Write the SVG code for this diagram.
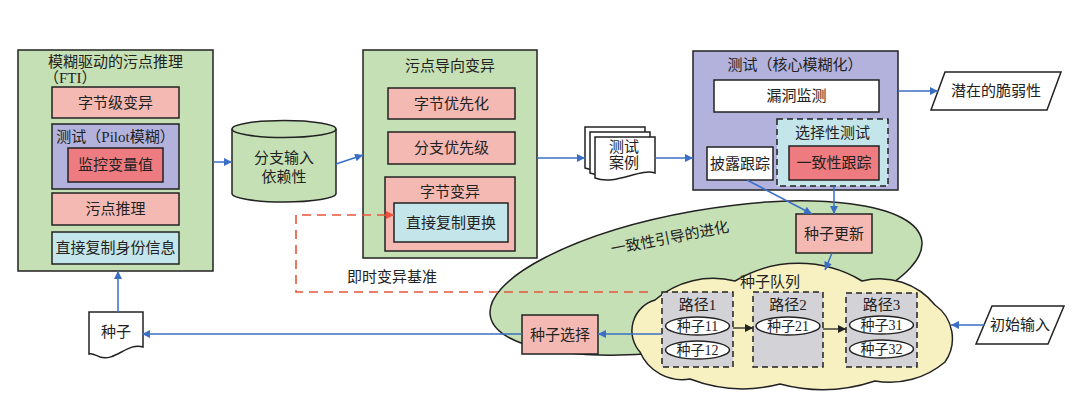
<svg xmlns="http://www.w3.org/2000/svg" width="1080" height="401" viewBox="0 0 1080 401">
<style>
text{font-family:"Liberation Serif","Noto Sans CJK SC",serif;font-size:15px;fill:#222;text-anchor:middle;dominant-baseline:central}
text.s{font-size:14px}
.b{stroke:#222;stroke-width:1.5}
.g{fill:#c5e0b4}.p{fill:#f5b9b3}.r{fill:#ee7b80}.v{fill:#b2b2dc}.c{fill:#c4e5ea}.w{fill:#fff}.q{fill:#d3d3d7}
.d{stroke-dasharray:6 4}
.ab{stroke:#3a6fc4;stroke-width:1.5;fill:none;marker-end:url(#mb)}
.ak{stroke:#222;stroke-width:1.3;fill:none;marker-end:url(#mk)}
</style>
<defs>
<marker id="mb" viewBox="0 0 10 10" refX="10" refY="5" markerWidth="12" markerHeight="8" markerUnits="userSpaceOnUse" orient="auto"><path d="M0,0 L10,5 L0,10 Z" fill="#3a6fc4"/></marker>
<marker id="mk" viewBox="0 0 10 10" refX="10" refY="5" markerWidth="12" markerHeight="8" markerUnits="userSpaceOnUse" orient="auto"><path d="M0,0 L10,5 L0,10 Z" fill="#222"/></marker>
<marker id="mr" viewBox="0 0 10 10" refX="10" refY="5" markerWidth="12" markerHeight="8" markerUnits="userSpaceOnUse" orient="auto"><path d="M0,0 L10,5 L0,10 Z" fill="#e8553a"/></marker>
</defs>
<rect width="1080" height="401" fill="#fff"/>

<g id="evolution">
<ellipse cx="706" cy="278" rx="219" ry="68" transform="rotate(-10 706 278)" class="g b"/>
<text x="670" y="238" transform="rotate(-11 670 238)">一致性引导的进化</text>
</g>

<g id="fti">
<rect x="18" y="50" width="195" height="221" class="g b"/>
<text x="48" y="62" style="text-anchor:start">模糊驱动的污点推理</text>
<text x="44" y="78" style="text-anchor:start">（FTI）</text>
<rect x="52" y="87" width="127" height="31" class="p b"/>
<text x="115.5" y="102.5">字节级变异</text>
<rect x="52" y="124" width="127" height="65" class="v b"/>
<text x="115.5" y="137">测试（Pilot模糊）</text>
<rect x="68" y="148" width="95" height="34" class="r b"/>
<text x="115.5" y="165">监控变量值</text>
<rect x="52" y="193" width="127" height="32" class="p b"/>
<text x="115.5" y="209">污点推理</text>
<rect x="52" y="232" width="127" height="32" class="c b"/>
<text x="115.5" y="248">直接复制身份信息</text>
</g>

<g id="branch-dep">
<path d="M232,129 V193.5 A52,8.5 0 0 0 336,193.5 V129" class="g b"/>
<ellipse cx="284" cy="129" rx="52" ry="8.5" class="g b"/>
<text x="284" y="158">分支输入</text>
<text x="284" y="177">依赖性</text>
</g>

<g id="tdm">
<rect x="363" y="50" width="174" height="208" class="g b"/>
<text x="450" y="66">污点导向变异</text>
<rect x="388" y="88" width="127" height="31" class="p b"/>
<text x="451.5" y="103.5">字节优先化</text>
<rect x="388" y="132" width="127" height="32" class="p b"/>
<text x="451.5" y="148">分支优先级</text>
<rect x="385" y="177" width="130" height="74" class="p b"/>
<text x="450" y="192">字节变异</text>
<rect x="394" y="203" width="114" height="39" class="c b"/>
<text x="451" y="222.5">直接复制更换</text>
</g>

<g id="testcases">
<path d="M585,127 H645 V163 C630,158 605,176 585,168 Z" class="w b" stroke-width="1.2"/>
<path d="M590,132 H650 V168 C635,163 610,181 590,173 Z" class="w b" stroke-width="1.2"/>
<path d="M595,137 H655 V173 C640,168 615,186 595,178 Z" class="w b" stroke-width="1.2"/>
<text x="624" y="147">测试</text>
<text x="624" y="163">案例</text>
</g>

<g id="core-fuzz">
<rect x="693" y="51" width="205" height="139" class="v b"/>
<text x="795" y="65">测试（核心模糊化）</text>
<rect x="714" y="80" width="165" height="32" class="w b"/>
<text x="796.5" y="96">漏洞监测</text>
<rect x="777" y="119" width="111" height="67" class="c b d"/>
<text x="832.5" y="133">选择性测试</text>
<rect x="789" y="146" width="90" height="34" class="r b"/>
<text x="834" y="163">一致性跟踪</text>
<rect x="707" y="147" width="66" height="33" class="w b"/>
<text x="740" y="163.5">披露跟踪</text>
</g>

<g id="vuln">
<path d="M945,72 H1061 L1047,110 H931 Z" class="w b"/>
<text x="996" y="91">潜在的脆弱性</text>
</g>

<g id="seed-update">
<rect x="796" y="214" width="76" height="39" class="p b"/>
<text x="834" y="233.5">种子更新</text>
</g>

<g id="seed-queue">
<path d="M655,300 A89,89 0 0 1 735,281 A123,123 0 0 1 862,281 A71,71 0 0 1 935,305 A41,41 0 0 1 945,362 A85,85 0 0 1 875,381 A165,165 0 0 1 780,384 A148,148 0 0 1 690,379 A46,46 0 0 1 640,352 A32,32 0 0 1 655,300 Z" fill="#f7f0c0" class="b" stroke-width="1.3"/>
<text x="770" y="282">种子队列</text>
<rect x="662" y="292" width="71" height="75" class="q b d"/>
<text x="697.5" y="305">路径1</text>
<ellipse cx="697.5" cy="326" rx="32" ry="9" class="w b"/>
<text class="s" x="697.5" y="326">种子11</text>
<ellipse cx="697.5" cy="350" rx="32" ry="9" class="w b"/>
<text class="s" x="697.5" y="350">种子12</text>
<rect x="753" y="292" width="70" height="75" class="q b d"/>
<text x="788" y="305">路径2</text>
<ellipse cx="788" cy="326" rx="32" ry="9" class="w b"/>
<text class="s" x="788" y="326">种子21</text>
<rect x="846" y="293" width="71" height="74" class="q b d"/>
<text x="881.5" y="305">路径3</text>
<ellipse cx="881.5" cy="325" rx="32" ry="9" class="w b"/>
<text class="s" x="881.5" y="325">种子31</text>
<ellipse cx="881.5" cy="349" rx="32" ry="9" class="w b"/>
<text class="s" x="881.5" y="349">种子32</text>
</g>

<g id="seed-select">
<rect x="522" y="315" width="76" height="39" class="p b"/>
<text x="560" y="334.5">种子选择</text>
</g>

<g id="init-input">
<path d="M992,306 H1064 L1048,344 H976 Z" class="w b"/>
<text x="1020" y="325">初始输入</text>
</g>

<g id="seed">
<path d="M89,312 H143 V347 C128,342 115,362 100,357 C95,355 92,353 89,354 Z" class="w b" stroke-width="1.2"/>
<text x="116" y="332">种子</text>
</g>

<g id="connectors">
<line x1="213" y1="162" x2="232" y2="162" class="ab"/>
<line x1="336" y1="164" x2="363" y2="155" class="ab"/>
<line x1="537" y1="158" x2="585" y2="158" class="ab"/>
<line x1="655" y1="158" x2="693" y2="158" class="ab"/>
<line x1="898" y1="91" x2="938" y2="91" class="ab"/>
<line x1="747" y1="180" x2="812" y2="214" class="ab"/>
<line x1="834" y1="186" x2="834" y2="214" class="ab"/>
<line x1="832" y1="253" x2="825" y2="270" class="ab"/>
<line x1="985" y1="325" x2="951" y2="325" class="ab"/>
<line x1="662" y1="334" x2="598" y2="334" class="ab"/>
<line x1="522" y1="334" x2="142" y2="334" class="ab"/>
<line x1="118" y1="312" x2="118" y2="271" class="ab"/>
<line x1="733" y1="328" x2="753" y2="328" class="ak"/>
<line x1="823" y1="329" x2="846" y2="329" class="ak"/>
<path d="M648,292 H296 V215 H394" fill="none" stroke="#e8553a" stroke-width="1.6" stroke-dasharray="9 6" marker-end="url(#mr)"/>
<text x="392" y="277">即时变异基准</text>
</g>
</svg>
